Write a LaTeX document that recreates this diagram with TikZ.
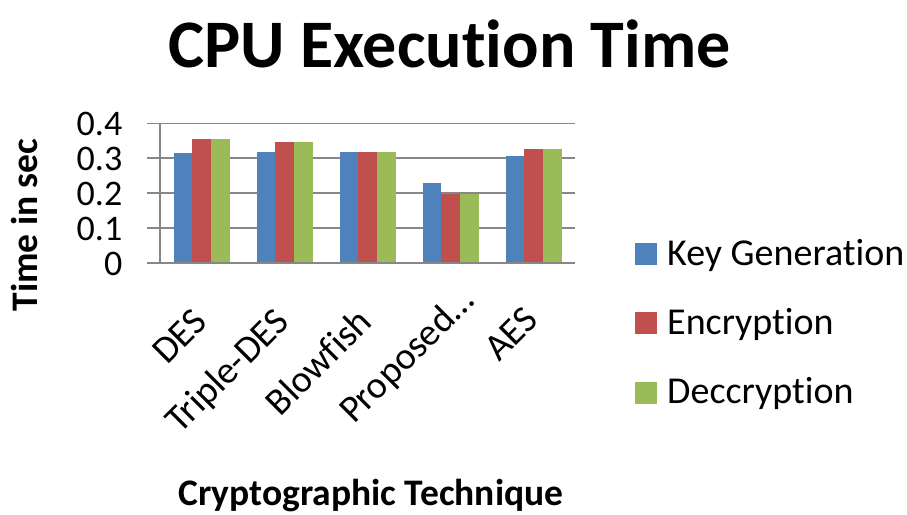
\documentclass[tikz,border=0pt]{standalone}
\usepackage{fontspec}
\setmainfont{Carlito}[Ligatures={NoCommon}]
\definecolor{kgblue}{HTML}{4F81BD}
\definecolor{encred}{HTML}{C0504D}
\definecolor{decgreen}{HTML}{9BBB59}
\definecolor{gridgray}{HTML}{878787}
\begin{document}
\begin{tikzpicture}[x=1pt,y=-1pt,
  gridline/.style={draw=gridgray,line width=1.8pt},
  ticklab/.style={anchor=east,inner sep=0pt,font=\fontsize{36pt}{40pt}\selectfont},
  catlab/.style={anchor=base east,inner sep=0pt,rotate=45,font=\fontsize{38pt}{40pt}\selectfont},
  leglab/.style={anchor=base west,inner sep=0pt,font=\fontsize{38pt}{40pt}\selectfont},
  axtitle/.style={inner sep=0pt,font=\bfseries\fontsize{37.5pt}{40pt}\selectfont},
  legbox/.style={inner sep=0pt,minimum size=22pt,anchor=south west}]
\useasboundingbox (0,0) rectangle (907,514);
% title
\node[anchor=base,inner sep=0pt,font=\bfseries\fontsize{68pt}{80pt}\selectfont] (title) at (449.5,67) {CPU Execution Time};
% gridlines with tick marks
\foreach \v/\t in {0/0,1/0.1,2/0.2,3/0.3,4/0.4}{
  \draw[gridline] (147,263-\v*34.9) -- (575,263-\v*34.9);
  \node[ticklab] (tick\v) at (122.5,264-\v*34.9) {\t};
}
% bars
\foreach \i/\a/\b/\c in {1/0.315/0.356/0.356, 2/0.318/0.348/0.348, 3/0.318/0.318/0.318, 4/0.228/0.199/0.199, 5/0.307/0.327/0.327}{
  \pgfmathsetmacro\cx{160+(\i-0.5)*83}
  \fill[kgblue] (\cx-28,263) rectangle (\cx-9.3,263-\a*349);
  \fill[encred] (\cx-9.3,263) rectangle (\cx+9.3,263-\b*349);
  \fill[decgreen] (\cx+9.3,263) rectangle (\cx+28,263-\c*349);
}
% axes
\draw[gridline] (160,123.4) -- (160,263);
\draw[gridline] (147,263) -- (575,263);
% category labels
\node[catlab] (cat1) at (209,324) {DES};
\node[catlab] (cat2) at (291,324) {Triple-DES};
\node[catlab] (cat3) at (374,324) {Blowfish};
\node[catlab] (cat4) at (476,303) {Proposed…};
\node[catlab] (cat5) at (540,322) {AES};
% axis titles
\node[axtitle,anchor=base,rotate=90] (ytitle) at (37,225) {Time in sec};
\node[axtitle,anchor=base] (xtitle) at (371,505) {Cryptographic Technique};
% legend
\node[legbox,fill=kgblue] (lb1) at (635,265) {};
\node[leglab] (ll1) at (667,265) {Key Generation};
\node[legbox,fill=encred] (lb2) at (635,334.5) {};
\node[leglab] (ll2) at (667,334) {Encryption};
\node[legbox,fill=decgreen] (lb3) at (635,404) {};
\node[leglab] (ll3) at (667,403) {Deccryption};
\end{tikzpicture}
\end{document}
